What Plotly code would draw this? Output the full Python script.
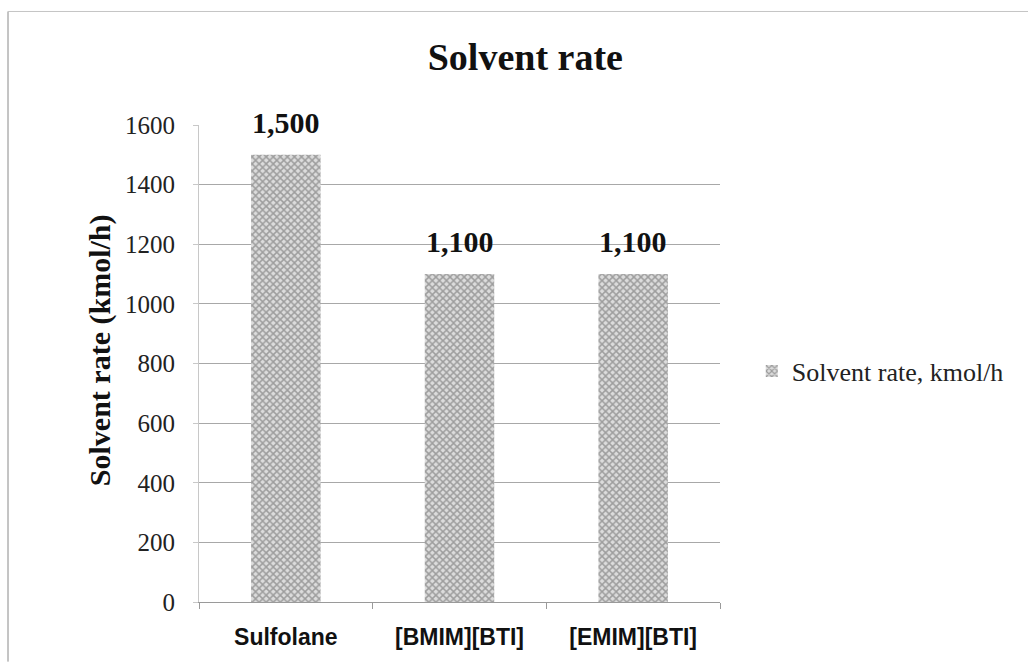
import plotly.graph_objects as go

# Solvent circulation rate per solvent
categories = ["Sulfolane", "[BMIM][BTI]", "[EMIM][BTI]"]
solvent_rate = [1500, 1100, 1100]
y_ticks = [0, 200, 400, 600, 800, 1000, 1200, 1400, 1600]

SERIF = "Liberation Serif, Times New Roman, serif"
SANS = "Liberation Sans, Arial, sans-serif"

fig = go.Figure()
fig.add_trace(go.Bar(
    x=categories,
    y=solvent_rate,
    name="Solvent rate, kmol/h",
    marker=dict(
        color="#c8c8c8",
        line=dict(width=0),
        pattern=dict(shape="x", fgcolor="#5e5e5e", bgcolor="#dcdcdc",
                     size=5, solidity=0.5),
    ),
))

# Value labels above each bar
for cat, val in zip(categories, solvent_rate):
    fig.add_annotation(
        x=cat, y=val, text=f"<b>{val:,}</b>", showarrow=False,
        yanchor="bottom", yshift=14,
        font=dict(family=SERIF, size=30, color="#111111"),
    )

# Vertical axis title
fig.add_annotation(
    xref="paper", yref="paper", x=-0.19, y=0.528,
    text="<b>Solvent rate (kmol/h)</b>", textangle=-90, showarrow=False,
    xanchor="center", yanchor="middle",
    font=dict(family=SERIF, size=30, color="#111111"),
)

# Chart frame: left and top edges
fig.add_shape(type="line", xref="paper", yref="paper",
              x0=-0.3666, x1=-0.3666, y0=-0.125, y1=1.238,
              line=dict(color="#8a8a8a", width=1))
fig.add_shape(type="line", xref="paper", yref="paper",
              x0=-0.3666, x1=1.6, y0=1.238, y1=1.238,
              line=dict(color="#c4c4c4", width=1))

fig.update_layout(
    width=1028, height=662,
    margin=dict(l=199, r=308, t=125, b=58),
    paper_bgcolor="white", plot_bgcolor="white",
    bargap=0.6,
    title=dict(text="<b>Solvent rate</b>", x=0.511, xanchor="center",
               y=0.914, yanchor="middle",
               font=dict(family=SERIF, size=38, color="#111111")),
    showlegend=True,
    legend=dict(x=1.061, xanchor="left", y=0.484, yanchor="middle",
                font=dict(family=SERIF, size=26, color="#222222"),
                itemwidth=30, bgcolor="rgba(0,0,0,0)"),
    xaxis=dict(
        tickfont=dict(family=SANS, size=23, color="#111111"),
        tickprefix="<b>", ticksuffix="</b>",
        showline=True, linecolor="#9a9a9a", linewidth=1,
        ticks="outside", tickson="boundaries", ticklen=6, tickcolor="#9a9a9a",
        ticklabelstandoff=14,
        showgrid=False,
    ),
    yaxis=dict(
        range=[0, 1600], tickvals=y_ticks,
        tickfont=dict(family=SERIF, size=25, color="#222222"),
        showgrid=True, gridcolor="#a8a8a8", gridwidth=1,
        showline=True, linecolor="#c8c8c8", linewidth=1,
        ticks="outside", ticklen=5, tickcolor="#c8c8c8",
        ticklabelstandoff=13,
        zeroline=False,
    ),
)

fig.write_html("out.html")
